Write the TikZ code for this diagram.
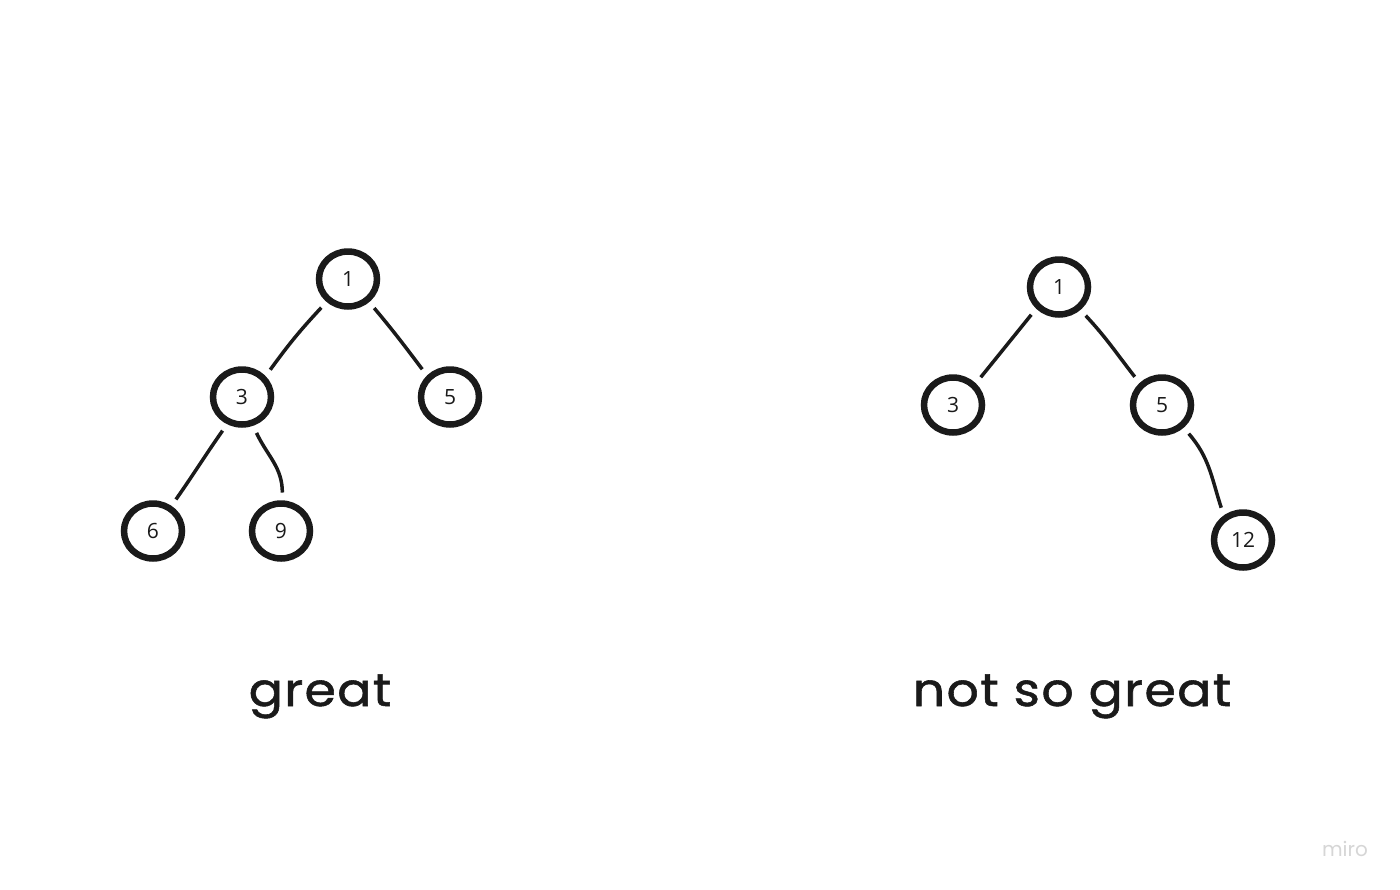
\documentclass[tikz,border=0pt]{standalone}
\usepackage{fontspec}
\usetikzlibrary{shapes.geometric}
\newfontfamily\numfont{Open Sans}
\newfontfamily\labfont[LetterSpace=3,FakeBold=1.2,FakeStretch=1.1]{Poppins}
\newfontfamily\logofont{Poppins}
\definecolor{ink}{HTML}{1A1A1A}
\definecolor{logo}{HTML}{D6D6D6}
\begin{document}
\begin{tikzpicture}[x=1pt,y=-1pt,
  tnode/.style={ellipse, draw=ink, line width=6.5pt, minimum width=58pt, minimum height=55pt,
    inner sep=0pt, outer sep=11pt, font=\numfont\fontsize{21}{24}\selectfont, text=ink},
  edge/.style={draw=ink, line width=3.5pt},
  caption/.style={font=\labfont\fontsize{46}{54}\selectfont, text=ink, anchor=base}]
\useasboundingbox[fill=white] (0,0) rectangle (1400,889);
% left tree
\node[tnode] (l1) at (348,279) {1};
\node[tnode] (l3) at (242,397) {3};
\node[tnode] (l5) at (450,397) {5};
\node[tnode] (l6) at (153,531) {6};
\node[tnode] (l9) at (281,531) {9};
\draw[edge] (l1.227) to[out=227,in=54] (l3.44);
\draw[edge] (l1.312) to[out=310,in=127] (l5.135);
\draw[edge] (l3.240) to[out=235,in=55] (l6.54);
\draw[edge] (l3.292) to[out=295,in=90] (l9.88);
% right tree
\node[tnode] (r1) at (1059,287) {1};
\node[tnode] (r3) at (953,405) {3};
\node[tnode] (r5) at (1162,405) {5};
\node[tnode] (r12) at (1243,540) {12};
\draw[edge] (r1.225) -- (r3.45);
\draw[edge] (r1.313) to[out=313,in=128] (r5.134);
\draw[edge] (r5.313) to[out=311,in=108] (r12.124);
% captions
\node[caption] (cap1) at (320,706) {great};
\node[caption] (cap2) at (1072,706) {not so great};
\node[font=\logofont\fontsize{20}{24}\selectfont, text=logo, anchor=base] (logo) at (1345,856) {miro};
\end{tikzpicture}
\end{document}
